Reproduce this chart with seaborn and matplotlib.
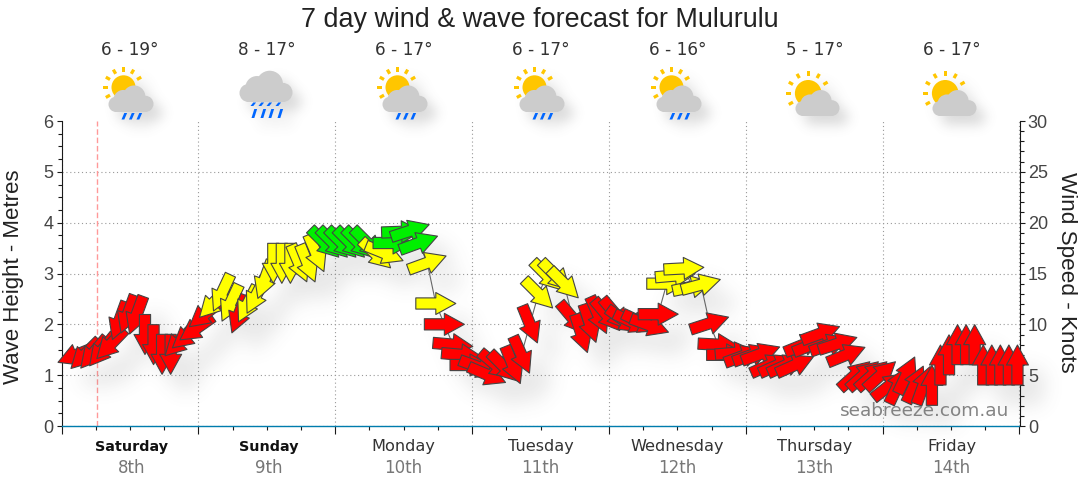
import numpy as np
import pandas as pd
import seaborn as sns
import matplotlib
matplotlib.use('Agg')
import matplotlib.pyplot as plt
from matplotlib.path import Path
from matplotlib.patches import Circle, Rectangle, Polygon
from matplotlib.collections import PatchCollection
from matplotlib.ticker import MultipleLocator

#######################  DATA  #######################

TITLE = '7 day wind & wave forecast for Mulurulu'
days = ['Saturday', 'Sunday', 'Monday', 'Tuesday', 'Wednesday', 'Thursday', 'Friday']
dates = ['8th', '9th', '10th', '11th', '12th', '13th', '14th']
temps = ['6 - 19°', '8 - 17°', '6 - 17°', '6 - 17°', '6 - 16°', '5 - 17°', '6 - 17°']
icons = ['sun_rain', 'rain', 'sun_rain', 'sun_rain', 'sun_rain', 'sun', 'sun']
now_hour = 6.2

# one arrow every 1.5 hours
hours = 1.14 + 1.5 * np.arange(1, 112)

wind_knots = [
    7.0, 7.05, 7.2, 7.45, 8.05, 10.35, 11, 10.9, 9, 8, 7.05, 7.05, 8.3, 8.95, 9.6, 11,
    12.1, 13.1, 12.1, 11, 12, 12.85, 14.4, 16, 16, 16, 16, 16, 17,
    18, 18, 18, 18, 18, 18, 16.9, 17, 18, 19.1, 19.2, 18, 16.05, 12.05,
    10, 8, 7, 6, 5.8, 5.05, 6, 5.8, 6, 7, 10, 13, 14.8, 14.8, 14,
    10.6, 9.1, 10.1, 10.9, 10.9, 11, 10.4, 10.2, 10.2, 9.9, 11,
    14, 14.8, 15.5, 13.7, 13.9, 10.1, 8, 7, 7.2, 6.9, 7, 7.1, 6, 6, 6, 6,
    8, 8, 9.1, 8, 8.1, 7, 5, 5, 5, 5, 3.95, 4, 5, 4.1, 4, 4,
    6, 7, 8, 8, 8, 6, 6, 6, 6, 6,
]

# direction the arrow points, degrees counter clockwise from east
wind_dir = [
    202, 225, 230, 231, 226, 250, 250, 250, 270, 270, 270, 270, 225, 220, 215, 219,
    226, 245, 245, 249, 243, 243, 250, 270, 270, 270, 293, 292, 293,
    315, 315, 315, 315, 315, 315, 317, 338, 0, 2, 18, 20, 20, 0,
    0, -5, -5, 0, -20, -23, -40, -45, -68, -66, -68, -45, -45, -45, -45,
    -50, -72, -72, -66, -50, -50, -35, -25, -25, -20, 0,
    0, 5, 3, 12, 15, 18, -3, 0, 5, 20, 20, 20, 24, 24, 24, 24,
    22, 22, 20, 20, 18, 22, 42, 42, 42, 42, 38, 65, 65, 65, 70, 90,
    90, 90, 90, 90, 90, 90, 90, 90, 90, 90,
]

wind_band = (['red'] * 16 + ['yellow'] * 3 + ['red'] + ['yellow'] * 9 + ['green'] * 6
             + ['yellow'] * 2 + ['green'] * 4 + ['yellow'] * 2 + ['red'] * 11
             + ['yellow'] * 4 + ['red'] * 11 + ['yellow'] * 5 + ['red'] * 37)

band_colours = {'red': '#ff0000', 'yellow': '#ffff00', 'green': '#00f000'}

#######################  HELPERS  #######################

W, H = 1080, 490
UI_FONT = 'Liberation Sans'


def fx(px):
    return px / W


def fy(py):
    return 1 - py / H


def arrow_marker(angle):
    # arrow of 40 px long in pixel units, the two guard points keep
    # the MarkerStyle rescale the same for every rotation
    pts = np.array([(-20, -5.6), (0, -5.6), (0, -11), (20, 0), (0, 11), (0, 5.6), (-20, 5.6), (-20, -5.6)])
    a = np.deg2rad(angle)
    rot = np.array([[np.cos(a), -np.sin(a)], [np.sin(a), np.cos(a)]])
    pts = pts @ rot.T
    verts = [(-30, -30), (30, 30)] + [tuple(p) for p in pts]
    codes = [Path.MOVETO, Path.MOVETO, Path.MOVETO] + [Path.LINETO] * 6 + [Path.CLOSEPOLY]
    return Path(verts, codes)


def shadow_filter(sigma, dx, dy, alpha, colour=0.35):
    # blurred copy of the alpha channel, moved down and to the right
    def f(im, dpi):
        pad = int(3 * sigma) + 2
        a = np.zeros((im.shape[0] + 2 * pad, im.shape[1] + 2 * pad))
        a[pad:-pad, pad:-pad] = im[:, :, 3]
        r = np.arange(-pad, pad + 1)
        k = np.exp(-r ** 2 / (2 * sigma ** 2))
        k = k / k.sum()
        a = np.apply_along_axis(lambda v: np.convolve(v, k, mode='same'), 0, a)
        a = np.apply_along_axis(lambda v: np.convolve(v, k, mode='same'), 1, a)
        out = np.zeros(a.shape + (4,))
        out[:, :, :3] = colour
        out[:, :, 3] = np.clip(a * alpha, 0, 1)
        return out, -pad + dx, -pad - dy
    return f


def cloud_patches(x0, x1, yb):
    w = x1 - x0
    return [
        Circle((x0 + 0.17 * w, yb - 0.17 * w), 0.17 * w),
        Circle((x1 - 0.18 * w, yb - 0.18 * w), 0.18 * w),
        Circle((x0 + 0.57 * w, yb - 0.34 * w), 0.25 * w),
        Circle((x0 + 0.33 * w, yb - 0.27 * w), 0.22 * w),
        Rectangle((x0 + 0.15 * w, yb - 0.3 * w), 0.7 * w, 0.3 * w),
    ]


def sun_patches(cx, cy, r, ray_r):
    patches = [Circle((cx, cy), r)]
    for deg in [90, 120, 60, 150, 30, 180, 210]:
        a = np.deg2rad(deg)
        u = np.array([np.cos(a), -np.sin(a)])
        n = np.array([-u[1], u[0]])
        c = np.array([cx, cy]) + u * ray_r
        quad = [c + u * 2.4 + n * 1.6, c + u * 2.4 - n * 1.6, c - u * 2.4 - n * 1.6, c - u * 2.4 + n * 1.6]
        patches.append(Polygon(quad))
    return patches


def rain_patches(xs, y0, y1):
    out = []
    for x in xs:
        out.append(Polygon([(x + 0.8, y0), (x + 3.6, y0), (x + 0.8, y1), (x - 2, y1)]))
    return out


def draw_icon(ax, cx, kind):
    sun, cloud, rain = [], [], []
    if kind == 'sun_rain':
        sun = sun_patches(cx - 6, 87.3, 12, 18)
        cloud = cloud_patches(cx - 21, cx + 24, 112)
        rain = rain_patches([cx - 6, cx + 1.5, cx + 9], 113, 119.5)
    elif kind == 'rain':
        cloud = cloud_patches(cx - 27, cx + 26, 102)
        rain = rain_patches([cx - 14, cx - 6, cx + 2, cx + 11], 102.5, 106)
        rain += rain_patches([cx - 13, cx - 4, cx + 4, cx + 13], 109, 118)
    else:
        sun = sun_patches(cx - 6.3, 93.3, 13.3, 20)
        cloud = cloud_patches(cx - 19, cx + 25, 116)

    shadow = PatchCollection(sun + cloud + rain, facecolor='k', edgecolor='none', zorder=1)
    shadow.set_agg_filter(shadow_filter(6, 9, 9, 0.22))
    ax.add_collection(shadow)

    ax.add_collection(PatchCollection(sun, facecolor='#ffc600', edgecolor='none', zorder=2))
    ax.add_collection(PatchCollection(cloud, facecolor='#cccccc', edgecolor='none', zorder=3))
    ax.add_collection(PatchCollection(rain, facecolor='#0066ff', edgecolor='none', zorder=3))


#######################  MAIN  #######################

sns.set_theme(style='white')
plt.rcParams['font.family'] = ['DejaVu Sans']

df = pd.DataFrame({'hour': hours, 'knots': wind_knots, 'dir': wind_dir, 'band': wind_band})
markers = {d: arrow_marker(d) for d in df['dir'].unique()}

fig = plt.figure(figsize=(W / 100, H / 100), dpi=100)
fig.patch.set_facecolor('white')

# icon layer in pixel coordinates, behind the chart
icon_ax = fig.add_axes([0, 0, 1, 1], zorder=0)
icon_ax.set_xlim(0, W)
icon_ax.set_ylim(H, 0)
icon_ax.axis('off')

ax = fig.add_axes([fx(61.5), fy(426), (1019.5 - 61.5) / W, 305 / H], zorder=1)
ax.patch.set_alpha(0)
ax.set_xlim(0, 168)
ax.set_ylim(0, 6)

ax.xaxis.set_major_locator(MultipleLocator(24))
ax.xaxis.set_minor_locator(MultipleLocator(6))
ax.yaxis.set_major_locator(MultipleLocator(1))
ax.yaxis.set_minor_locator(MultipleLocator(0.25))
ax.grid(True, which='major', color='#999999', linestyle=(0, (1, 2.5)), linewidth=0.8)
ax.set_axisbelow(True)
ax.tick_params(axis='x', which='major', length=6, width=0.8, color='k', labelbottom=False, bottom=True)
ax.tick_params(axis='x', which='minor', length=3, width=0.8, color='k', bottom=True)
ax.tick_params(axis='y', which='major', length=3.5, width=0.8, color='k', labelsize=13, labelcolor='#444444', pad=2.5, left=True)
ax.tick_params(axis='y', which='minor', length=3, width=0.8, color='k', left=True)
for lab in ax.get_yticklabels():
    lab.set_fontfamily(UI_FONT)
# no dotted line along the top of the chart
for tick in ax.yaxis.get_major_ticks():
    if abs(tick.get_loc() - 6) < 1e-6:
        tick.gridline.set_visible(False)
ax.spines['top'].set_visible(False)
ax.spines['right'].set_visible(False)
ax.spines['left'].set_color('k')
ax.spines['left'].set_linewidth(0.8)
ax.spines['bottom'].set_color('#007cad')
ax.spines['bottom'].set_linewidth(1)
ax.axvline(now_hour, color='#ff9999', linestyle=(0, (4, 2)), linewidth=1, zorder=1.5)

ax2 = ax.twinx()
ax2.patch.set_alpha(0)
ax2.set_ylim(0, 30)
ax2.yaxis.set_major_locator(MultipleLocator(5))
ax2.yaxis.set_minor_locator(MultipleLocator(1))
ax2.tick_params(axis='y', which='major', length=3.5, width=0.8, color='k', labelsize=13, labelcolor='#444444', pad=2.5, right=True)
ax2.tick_params(axis='y', which='minor', length=3, width=0.8, color='k', right=True)
for lab in ax2.get_yticklabels():
    lab.set_fontfamily(UI_FONT)
ax2.spines['top'].set_visible(False)
ax2.spines['left'].set_visible(False)
ax2.spines['bottom'].set_visible(False)
ax2.spines['right'].set_color('k')
ax2.spines['right'].set_linewidth(0.8)

# drop shadow of the arrows
sns.scatterplot(data=df, x='hour', y='knots', style='dir', markers=markers, s=1866, color='k',
                linewidth=0, legend=False, clip_on=False, ax=ax2, zorder=2)
ax2.collections[-1].set_agg_filter(shadow_filter(7, 10, 10, 0.38))

# thin line joining the arrows
sns.lineplot(data=df, x='hour', y='knots', color='#666666', linewidth=0.8, sort=False,
             errorbar=None, estimator=None, legend=False, ax=ax2, zorder=3)

sns.scatterplot(data=df, x='hour', y='knots', hue='band', palette=band_colours, style='dir', markers=markers,
                s=1866, edgecolor='#444444', linewidth=0.8, legend=False, clip_on=False, ax=ax2, zorder=4)
ax.set_xlabel('')
ax.set_ylabel('')
ax2.set_xlabel('')
ax2.set_ylabel('')

for i in range(7):
    cx = 129.5 + 137 * i
    draw_icon(icon_ax, cx, icons[i])
    fig.text(fx(cx), fy(50), temps[i], ha='center', va='center', fontsize=12.2, color='#333333')
    bold = i < 2
    fig.text(fx(cx + 2 if bold else cx), fy(447), days[i], ha='center', va='center', fontsize=10.4 if bold else 11.6,
             color='#111111' if bold else '#333333', fontweight='bold' if bold else 'normal')
    fig.text(fx(cx + 2 if bold else cx), fy(468), dates[i], ha='center', va='center', fontsize=12, color='#777777')

fig.text(fx(540), fy(20), TITLE, ha='center', va='center', fontsize=19.4, color='#222222', family=UI_FONT)
fig.text(fx(14), fy(277), 'Wave Height - Metres', rotation=90, ha='center', va='center', fontsize=16, color='#222222', family=UI_FONT)
fig.text(fx(1067), fy(272), 'Wind Speed - Knots', rotation=-90, ha='center', va='center', fontsize=16.2, color='#222222', family=UI_FONT)
fig.text(fx(925), fy(411), 'seabreeze.com.au', ha='center', va='center', fontsize=13.3, color='#777777', alpha=0.9, zorder=10)

fig.savefig('out.png', dpi=100)
